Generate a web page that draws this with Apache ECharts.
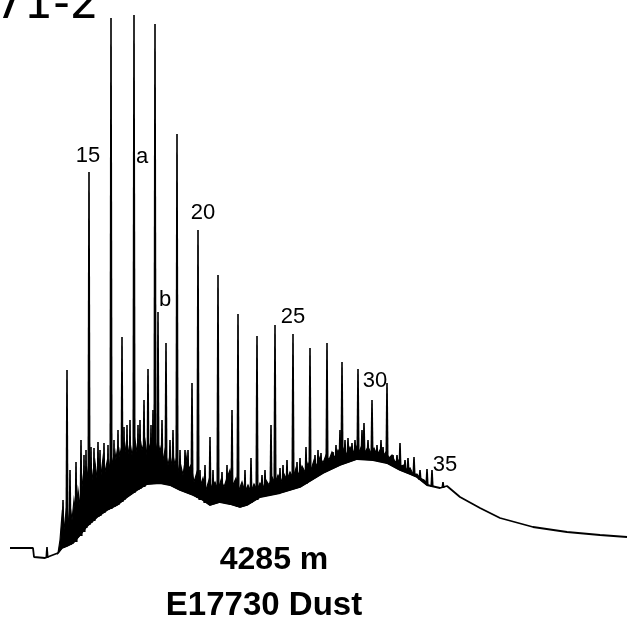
<!DOCTYPE html>
<html><head><meta charset="utf-8">
<script src="https://cdn.jsdelivr.net/npm/echarts@6/dist/echarts.min.js"></script>
<style>html,body{margin:0;padding:0;background:#fff}#c{width:631px;height:631px}</style>
</head><body><div id="c"></div>
<script>
// retention position (arbitrary units) and detector response
const lowerEnvelope = [[10,52],[33,52],[34,43],[45,42],[58,47],[62,52],[67,54],[73,57],[80,65],[87,74],[97,83],[107,90],[117,95],[127,103],[137,110],[147,116],[160,117],[170,115],[180,110],[193,105],[203,100],[210,95],[220,98],[230,96],[240,93],[247,95],[260,103],[280,107],[300,113],[323,127],[340,135],[357,141],[373,140],[387,137],[400,130],[410,126],[417,123],[427,115],[440,112],[447,114],[460,103],[480,92],[500,82],[533,73],[567,68],[600,65],[627,63]];
const upperEnvelope = [[58,47],[60,60],[62,85],[64,70],[66,88],[68,75],[70,95],[72,80],[74,100],[76,85],[78,110],[80,95],[83,122],[85,105],[87,130],[89,115],[91,135],[93,120],[95,138],[97,122],[99,140],[101,125],[103,142],[105,128],[107,138],[109,130],[111,145],[114,132],[116,148],[118,135],[120,150],[123,138],[125,155],[127,140],[130,158],[132,145],[135,160],[137,148],[140,162],[142,150],[145,160],[147,145],[150,155],[152,142],[155,160],[158,145],[160,153],[163,140],[165,150],[168,135],[170,145],[173,130],[175,140],[178,128],[180,138],[183,125],[186,145],[188,130],[191,135],[194,118],[197,128],[200,113],[203,122],[206,110],[209,120],[212,112],[215,118],[218,110],[221,120],[224,113],[227,122],[230,130],[233,115],[236,122],[239,110],[242,118],[245,108],[248,115],[251,108],[254,116],[257,110],[260,117],[263,112],[266,120],[269,115],[272,123],[275,117],[278,125],[281,118],[284,126],[287,120],[290,128],[293,122],[296,132],[299,125],[302,134],[305,128],[308,137],[311,130],[314,140],[317,134],[320,143],[323,137],[326,145],[329,140],[332,148],[335,142],[338,150],[341,144],[344,152],[347,145],[350,153],[353,147],[356,154],[359,148],[362,155],[365,148],[368,153],[371,147],[374,152],[377,145],[380,150],[383,144],[386,148],[389,142],[392,145],[395,138],[398,140],[401,134],[404,135],[407,130],[410,132],[413,126],[417,126],[420,122],[424,120],[427,117]];
const peakRt   = [47,63,67,70,76,81,84,86,89,91,94,98,100,104,108,111,114,118,122,124,127,130,134,138,140,144,148,151,153,155,158,162,166,170,173,177,180,185,188,192,198,200,205,210,213,218,222,227,232,238,245,251,257,262,265,271,275,280,283,287,293,297,300,306,310,315,318,321,327,333,336,340,342,345,348,352,355,358,362,364,368,372,377,381,383,387,393,397,400,405,408,414,420,427,432,443];
const peakTop  = [53,100,230,130,138,160,145,150,428,153,152,158,150,157,155,582,160,170,263,173,175,180,585,175,180,200,231,175,190,576,288,180,257,160,170,466,150,150,150,217,370,130,135,163,130,325,128,135,190,286,130,142,264,125,130,175,275,132,135,140,266,138,142,153,252,145,150,147,257,148,155,170,238,160,162,157,160,231,170,177,160,200,155,160,153,217,145,145,157,140,142,143,130,131,130,118];
const peakFoot = [42,52,54,55,58,64,68,72,75,77,79,83,84,87,90,91,93,95,98,100,103,105,107,110,111,113,116,116,116,116,117,117,117,116,114,112,110,108,107,106,102,100,97,95,96,97,98,97,95,93,94,97,100,104,104,105,106,107,108,109,111,112,113,116,119,122,124,126,129,132,133,135,136,137,138,139,140,141,141,141,141,140,139,138,138,137,134,132,130,128,127,124,120,115,113,112];
const labelText = ['15','a','20','b','25','30','35'];
const labelRt   = [88,142,203,165,293,375,445];
const labelResp = [444,443,387,300,283,219,135];

const chart = echarts.init(document.getElementById('c'));
const bandLower = lowerEnvelope.filter(p => p[0] >= 58 && p[0] <= 427).slice().reverse();
const option = {
  animation: false,
  backgroundColor: '#fff',
  grid: {left: 0, right: 0, top: 0, bottom: 0},
  xAxis: {type: 'value', min: 0, max: 631, show: false},
  yAxis: {type: 'value', min: -31, max: 600, show: false},
  series: [
    {
      type: 'custom', clip: false, silent: true,
      data: [[0, 0]],
      renderItem: function (params, api) {
        const pts = upperEnvelope.concat(bandLower).map(p => api.coord(p));
        return {type: 'polygon', shape: {points: pts}, style: {fill: '#000', stroke: '#000', lineWidth: 1.2}};
      }
    },
    {
      type: 'line', data: lowerEnvelope, symbol: 'none', silent: true,
      lineStyle: {color: '#000', width: 1.8}
    },
    {
      type: 'custom', clip: false, silent: true,
      data: peakRt.map((rt, i) => [rt, peakTop[i], peakFoot[i]]),
      renderItem: function (params, api) {
        const top = api.coord([api.value(0), api.value(1)]);
        const foot = api.coord([api.value(0), api.value(2)]);
        return {type: 'polygon', shape: {points: [[foot[0] - 1.6, foot[1]], [top[0] - 0.8, top[1]], [top[0] + 0.8, top[1]], [foot[0] + 1.6, foot[1]]]},
          style: {fill: '#000'}};
      }
    },
    {
      type: 'custom', clip: false, silent: true,
      data: labelText.map((t, i) => [labelRt[i], labelResp[i], i]),
      renderItem: function (params, api) {
        const p = api.coord([api.value(0), api.value(1)]);
        return {type: 'text', x: p[0], y: p[1], style: {text: labelText[api.value(2)], align: 'center', verticalAlign: 'middle',
          fill: '#000', font: '22px "Liberation Sans Narrow", "Liberation Sans", Arial, sans-serif'}};
      }
    }
  ],
  graphic: [
    {type: 'text', x: 99, y: 6, style: {text: '71-2', align: 'right', verticalAlign: 'middle',
      font: '46px "DejaVu Sans", sans-serif', fill: '#000'}},
    {type: 'text', x: 274, y: 560, style: {text: '4285 m', align: 'center', verticalAlign: 'middle',
      font: 'bold 32px "Liberation Sans", Arial, sans-serif', fill: '#000'}},
    {type: 'text', x: 264, y: 606, style: {text: 'E17730 Dust', align: 'center', verticalAlign: 'middle',
      font: 'bold 33px "Liberation Sans", Arial, sans-serif', fill: '#000'}}
  ]
};
chart.setOption(option);
</script></body></html>
